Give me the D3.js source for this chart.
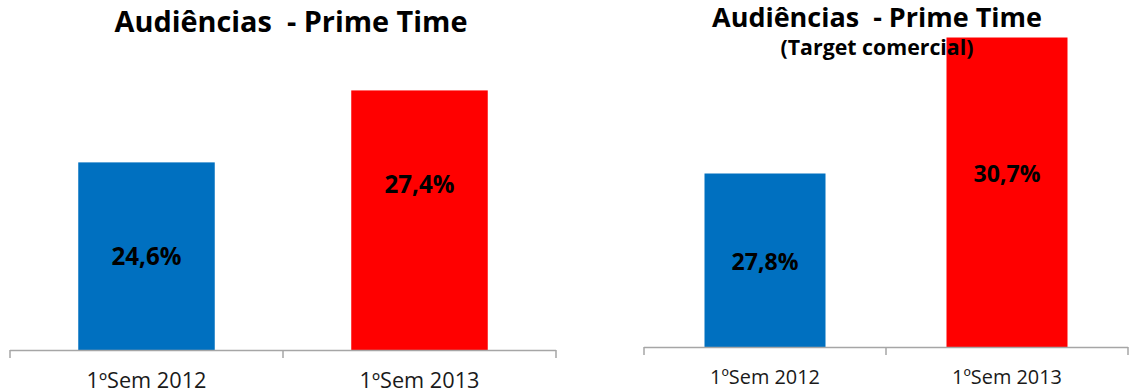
<!DOCTYPE html>
<html><head><meta charset="utf-8">
<script src="https://cdn.jsdelivr.net/npm/d3@7"></script>
<style>
html,body{margin:0;padding:0;background:#fff;}
svg{display:block;}
text{font-family:"Open Sans",Lato,sans-serif;}
</style></head>
<body>
<svg id="chart" width="1129" height="392"></svg>
<script>
const categories = ["1ºSem 2012", "1ºSem 2013"];
const audienceValues = [24.6, 27.4];
const targetValues = [27.8, 30.7];
const barColors = ["#0070C0", "#FF0000"];
const leftTitle = "Audiências  - Prime Time";
const rightTitle = "Audiências  - Prime Time";
const rightSubtitle = "(Target comercial)";

const svg = d3.select("#chart");
const fmt = v => v.toFixed(1).replace(".", ",") + "%";

// scale font size so the text spans the desired width
function fitWidth(sel, target) {
  sel.each(function () {
    const t = d3.select(this);
    const fs = parseFloat(t.attr("font-size"));
    const w = this.getComputedTextLength();
    if (w > 0) t.attr("font-size", (fs * target / w).toFixed(2));
  });
}

function drawPanel(cfg) {
  const g = svg.append("g");
  const x = d3.scaleBand().domain(categories).range([cfg.x0, cfg.x1]).paddingInner(0.5).paddingOuter(0.25);
  const y = d3.scaleLinear().domain(cfg.yDomain).range([cfg.base, cfg.top]);
  const data = categories.map((c, i) => ({c, v: cfg.values[i], color: barColors[i]}));

  g.selectAll("rect.bar").data(data).join("rect")
    .attr("class", "bar")
    .attr("x", d => x(d.c)).attr("width", x.bandwidth())
    .attr("y", d => y(d.v)).attr("height", d => y.range()[0] - y(d.v))
    .attr("fill", d => d.color);

  g.append("line").attr("x1", cfg.x0).attr("x2", cfg.x1).attr("y1", cfg.base + 0.5).attr("y2", cfg.base + 0.5)
    .attr("stroke", "#a6a6a6").attr("stroke-width", 1.5);
  const step = x.step();
  const bounds = d3.range(categories.length + 1).map(i => cfg.x0 + i * step);
  g.selectAll("line.sep").data(bounds).join("line").attr("class", "sep")
    .attr("x1", d => d).attr("x2", d => d)
    .attr("y1", cfg.base).attr("y2", cfg.base + 8)
    .attr("stroke", "#a6a6a6").attr("stroke-width", 1.5);

  g.selectAll("text.cat").data(categories).join("text").attr("class", "cat")
    .attr("x", d => x(d) + x.bandwidth() / 2).attr("y", cfg.catY)
    .attr("text-anchor", "middle").attr("font-size", 20).attr("fill", "#1a1a1a")
    .text(d => d)
    .call(fitWidth, cfg.catW);

  g.selectAll("text.val").data(data).join("text").attr("class", "val")
    .attr("x", d => x(d.c) + x.bandwidth() / 2)
    .attr("y", (d, i) => cfg.valY[i])
    .attr("text-anchor", "middle").attr("font-size", 22).attr("font-weight", "bold").attr("fill", "#000")
    .text(d => fmt(d.v))
    .call(fitWidth, cfg.valW);

  g.append("text").attr("x", cfg.titleX).attr("y", cfg.titleY)
    .attr("text-anchor", "middle").attr("font-size", 26).attr("font-weight", "bold")
    .style("white-space", "pre").attr("fill", "#000").text(cfg.title)
    .call(fitWidth, cfg.titleW);
  if (cfg.subtitle) {
    g.append("text").attr("x", cfg.titleX).attr("y", cfg.subY)
      .attr("text-anchor", "middle").attr("font-size", 18).attr("font-weight", "bold")
      .attr("fill", "#000").text(cfg.subtitle)
      .call(fitWidth, cfg.subW);
  }
}

drawPanel({
  x0: 10, x1: 556, base: 350, top: 23.6, yDomain: [17.3, 30],
  values: audienceValues, catY: 388, catW: 120, valY: [265, 193], valW: 70,
  title: leftTitle, titleX: 291, titleY: 32, titleW: 353
});
drawPanel({
  x0: 644, x1: 1128, base: 347, top: 0, yDomain: [24.1, 31.5],
  values: targetValues, catY: 384, catW: 110, valY: [270, 181.5], valW: 67,
  title: rightTitle, titleX: 877, titleY: 27, titleW: 330,
  subtitle: rightSubtitle, subY: 55, subW: 193
});
</script>
</body></html>
